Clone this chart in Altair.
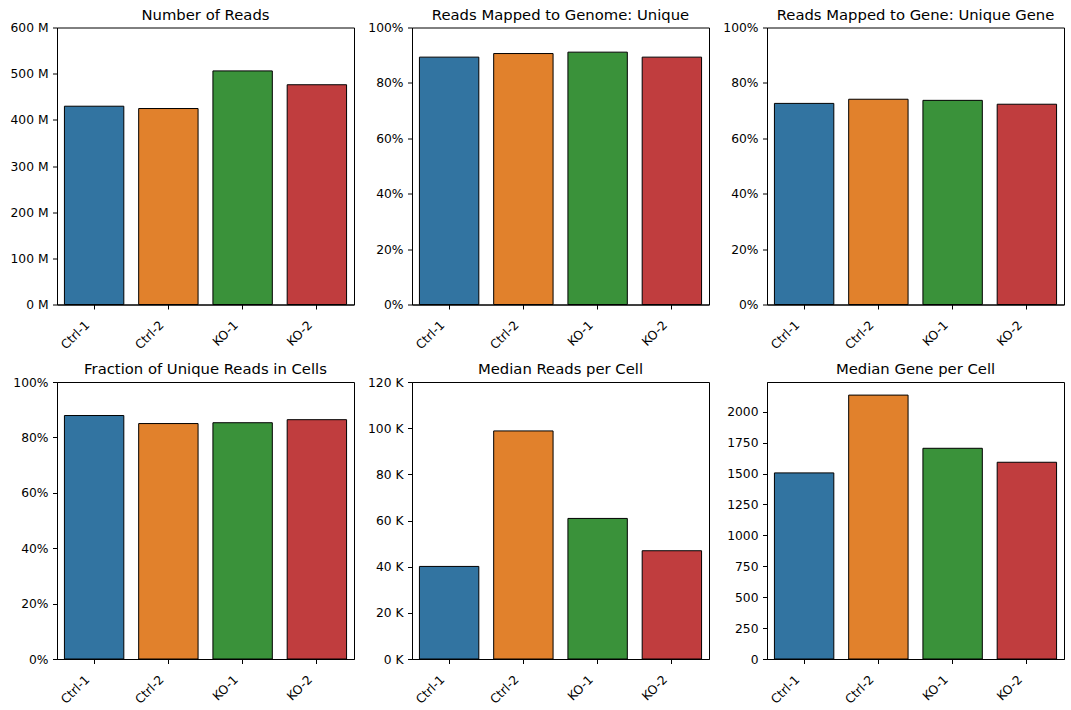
import altair as alt
import pandas as pd

samples = ["Ctrl-1", "Ctrl-2", "KO-1", "KO-2"]
colors = ["#3274a1", "#e1812c", "#3a923a", "#c03d3e"]

num_reads = [429.5e6, 424.5e6, 506.0e6, 476.0e6]
mapped_genome = [0.893, 0.906, 0.911, 0.893]
mapped_gene = [0.726, 0.741, 0.737, 0.723]
frac_in_cells = [0.879, 0.850, 0.853, 0.864]
median_reads = [40100, 98800, 60900, 46900]
median_genes = [1505, 2134, 1704, 1591]

FONT = "DejaVu Sans"
W, H = 297, 277


def panel(title, values, domain, tick_values, label_expr):
    df = pd.DataFrame({"sample": samples, "value": values})
    bars = (
        alt.Chart(df)
        .mark_bar(stroke="black", strokeWidth=1, opacity=1)
        .encode(
            x=alt.X(
                "sample:N",
                sort=samples,
                scale=alt.Scale(paddingInner=0.2, paddingOuter=0.1),
                axis=alt.Axis(
                    title=None,
                    labelAngle=315,
                    labelAlign="right",
                    labelBaseline="top",
                    labelPadding=9.3,
                    labelOffset=-11,
                    tickSize=4.5,
                    labelFontSize=12.3,
                    labelFont=FONT,
                    labelColor="black",
                    tickColor="black",
                    domainColor="black",
                    minExtent=50,
                    maxExtent=50,
                ),
            ),
            y=alt.Y(
                "value:Q",
                scale=alt.Scale(domain=domain, nice=False, zero=True),
                axis=alt.Axis(
                    title=None,
                    values=tick_values,
                    labelExpr=label_expr,
                    grid=False,
                    tickSize=4.5,
                    labelPadding=4.5,
                    labelFontSize=12.3,
                    labelFont=FONT,
                    labelColor="black",
                    tickColor="black",
                    domainColor="black",
                    minExtent=50,
                    maxExtent=50,
                ),
            ),
            color=alt.Color(
                "sample:N",
                sort=samples,
                scale=alt.Scale(domain=samples, range=colors),
                legend=None,
            ),
        )
    )
    head = (
        alt.Chart(alt.Data(values=[{"t": title}]))
        .mark_text(
            font=FONT,
            fontSize=14.8,
            color="black",
            align="center",
            baseline="alphabetic",
        )
        .encode(x=alt.value(W / 2), y=alt.value(-8), text="t:N")
    )
    return alt.layer(bars, head).properties(width=W, height=H)


p1 = panel("Number of Reads", num_reads, [0, 600e6],
           [0, 100e6, 200e6, 300e6, 400e6, 500e6, 600e6],
           "format(datum.value / 1e6, 'd') + ' M'")
p2 = panel("Reads Mapped to Genome: Unique", mapped_genome, [0, 1],
           [0, 0.2, 0.4, 0.6, 0.8, 1.0], "format(datum.value, '.0%')")
p3 = panel("Reads Mapped to Gene: Unique Gene", mapped_gene, [0, 1],
           [0, 0.2, 0.4, 0.6, 0.8, 1.0], "format(datum.value, '.0%')")
p4 = panel("Fraction of Unique Reads in Cells", frac_in_cells, [0, 1],
           [0, 0.2, 0.4, 0.6, 0.8, 1.0], "format(datum.value, '.0%')")
p5 = panel("Median Reads per Cell", median_reads, [0, 120000],
           [0, 20000, 40000, 60000, 80000, 100000, 120000],
           "format(datum.value / 1000, 'd') + ' K'")
p6 = panel("Median Gene per Cell", median_genes, [0, 2240],
           [0, 250, 500, 750, 1000, 1250, 1500, 1750, 2000],
           "format(datum.value, 'd')")

chart = (
    alt.vconcat(
        alt.hconcat(p1, p2, p3, spacing=6),
        alt.hconcat(p4, p5, p6, spacing=6),
        spacing=5.5,
    )
    .properties(
        padding={"left": 6, "top": 6.5, "right": 0, "bottom": 0},
        background="white",
    )
    .configure_view(stroke="black", strokeWidth=1)
)

chart.save("out.html", embed_options={"renderer": "svg", "actions": False})
